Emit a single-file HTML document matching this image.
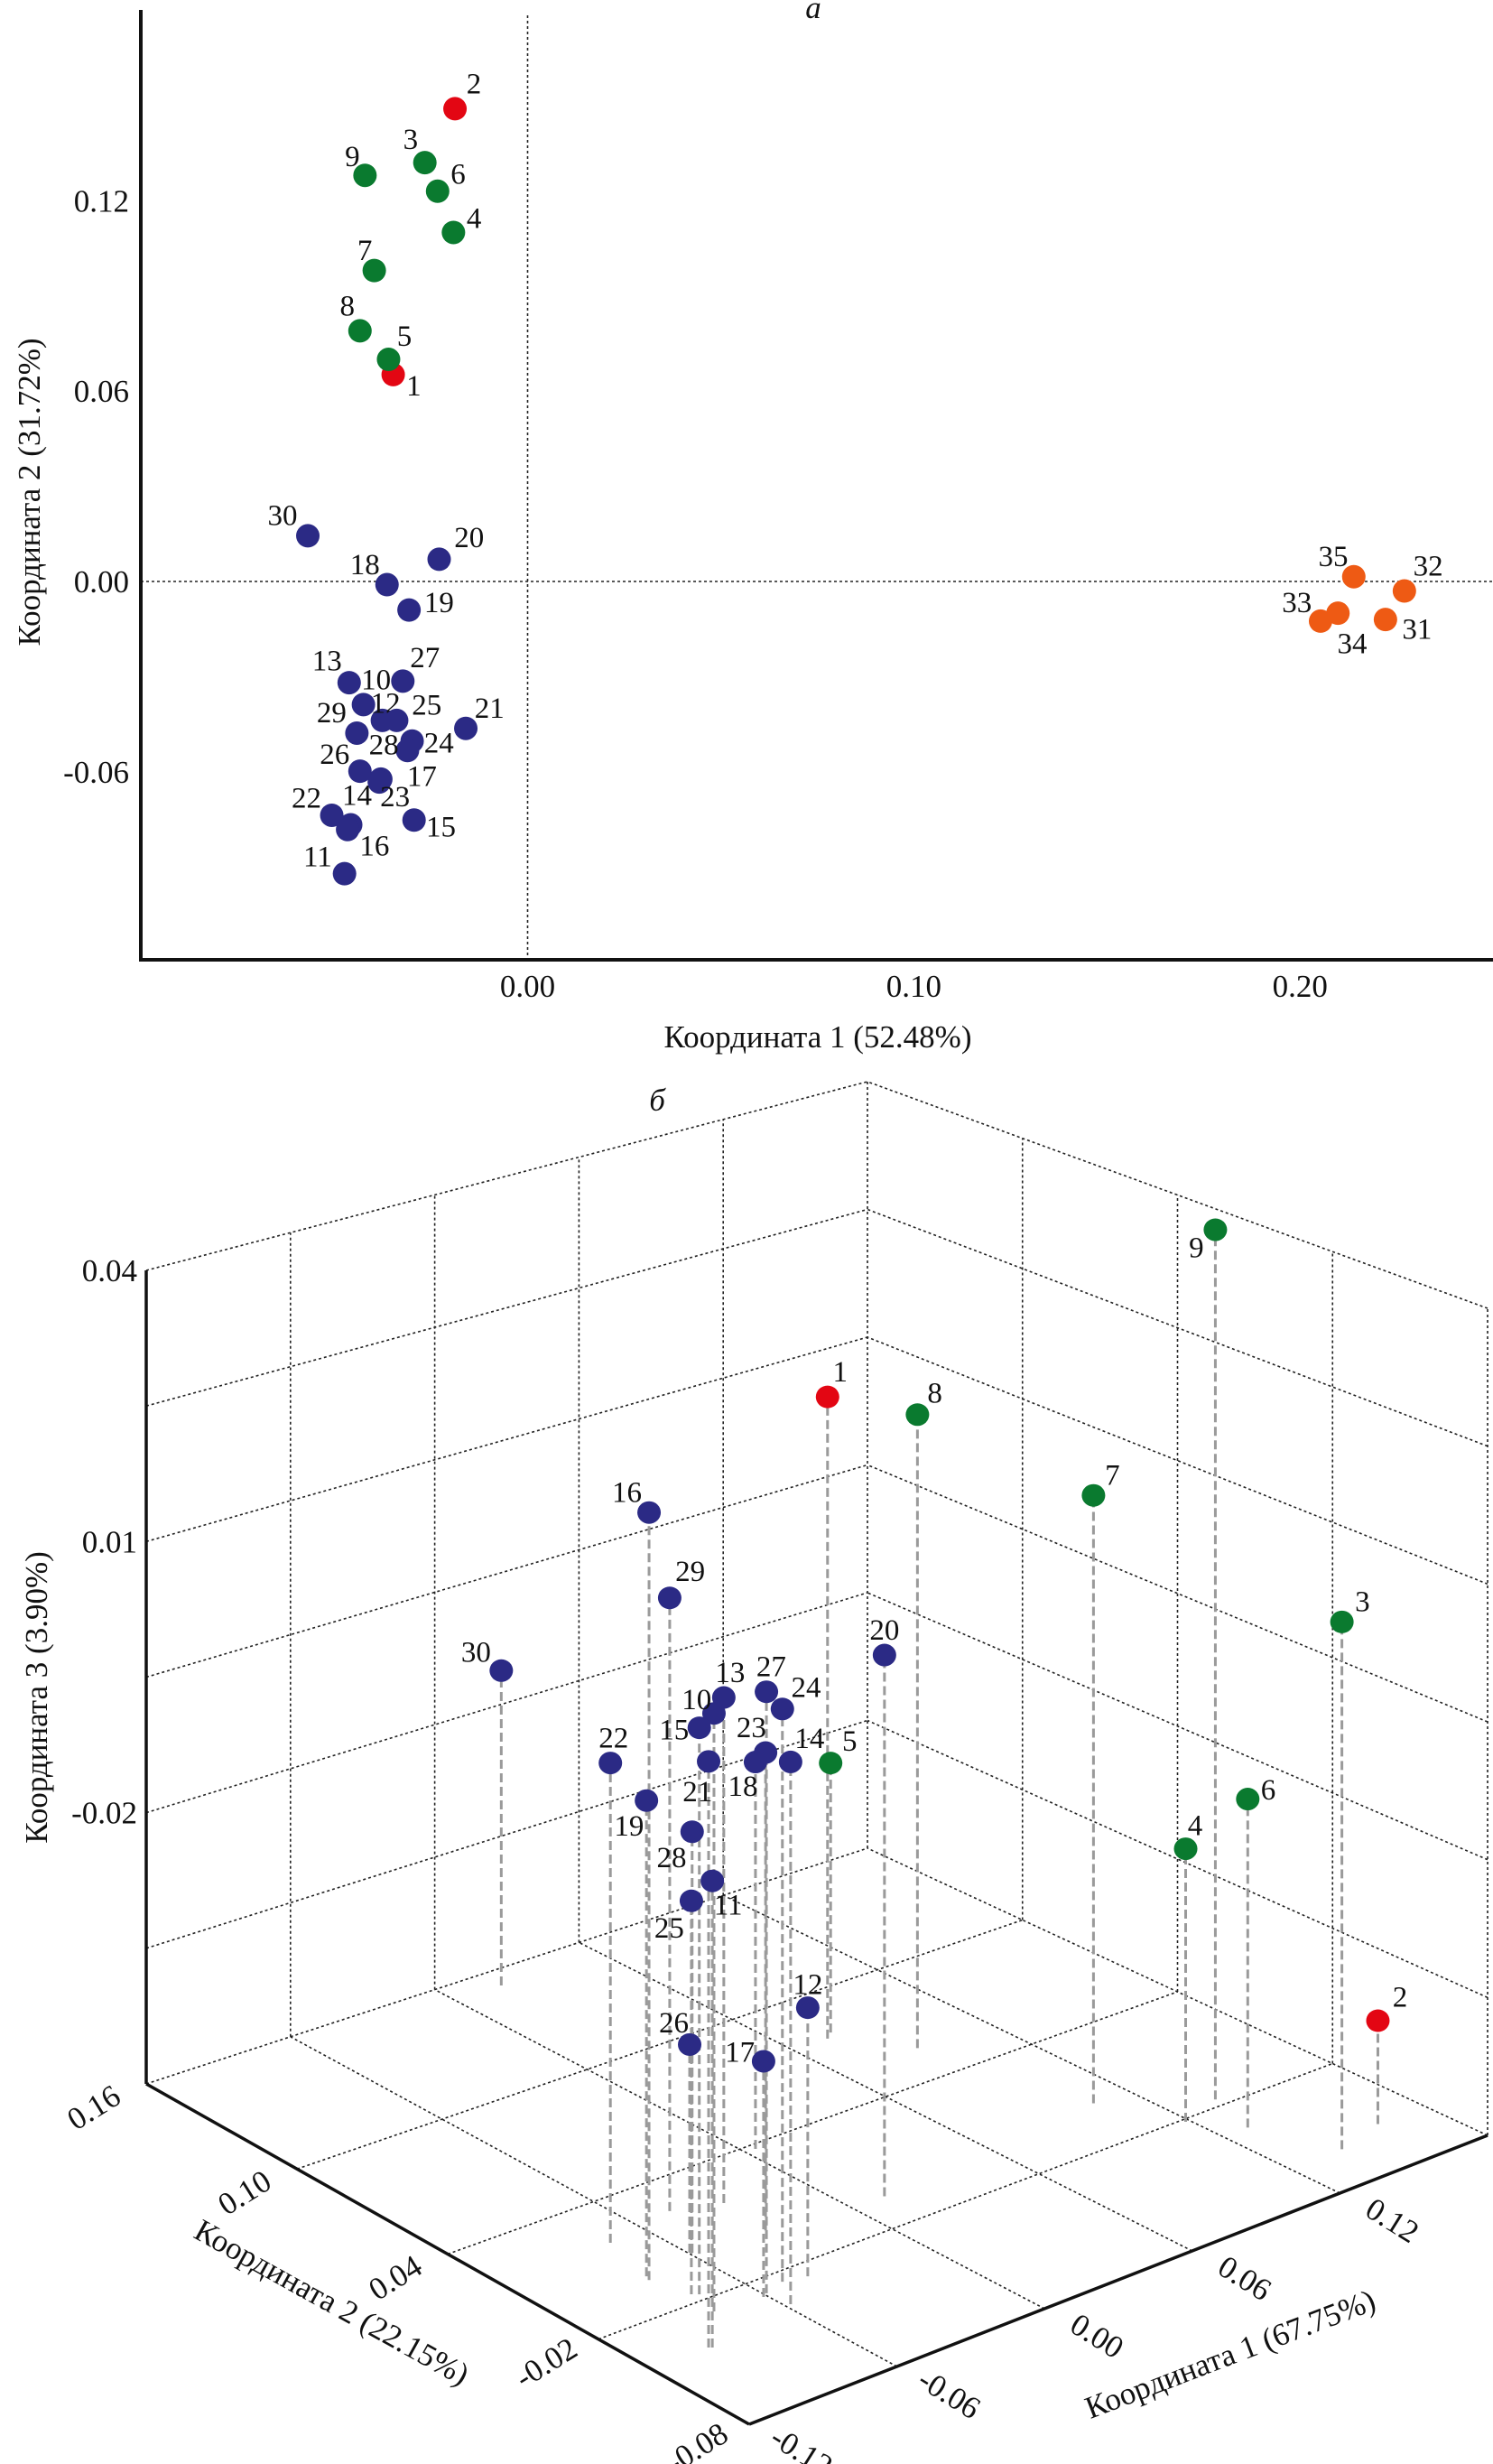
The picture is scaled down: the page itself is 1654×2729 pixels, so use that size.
<!DOCTYPE html>
<html><head><meta charset="utf-8"><style>
html,body{margin:0;padding:0;background:#fff}
svg{display:block}
text{font-family:"Liberation Serif","Noto Serif CJK SC",serif;fill:#111}
</style></head><body>
<svg id="chart" width="1654" height="2729" viewBox="0 0 1654 2729" xmlns="http://www.w3.org/2000/svg">
<g id="top"></g>
<g id="bot"></g>
</svg>
<script>
// ===== 2D chart data =====
const ids2d = [1,2,3,4,5,6,7,8,9,10,11,12,13,14,15,16,17,18,19,20,21,22,23,24,25,26,27,28,29,30,31,32,33,34,35];
const coord1 = [-0.0348,-0.0188,-0.0266,-0.0192,-0.0360,-0.0233,-0.0397,-0.0434,-0.0421,-0.0425,-0.0474,-0.0376,-0.0462,-0.0458,-0.0294,-0.0466,-0.0380,-0.0364,-0.0307,-0.0229,-0.0160,-0.0507,-0.0384,-0.0299,-0.0339,-0.0434,-0.0323,-0.0311,-0.0442,-0.0569,0.2221,0.2270,0.2053,0.2098,0.2139];
const coord2 = [0.0652,0.1490,0.1320,0.1100,0.0700,0.1230,0.0980,0.0790,0.1280,-0.0388,-0.0921,-0.0438,-0.0319,-0.0767,-0.0752,-0.0782,-0.0623,-0.0010,-0.0090,0.0070,-0.0463,-0.0737,-0.0632,-0.0503,-0.0438,-0.0598,-0.0314,-0.0533,-0.0478,0.0144,-0.0120,-0.0030,-0.0125,-0.0100,0.0015];
const group2d = ['r','r','g','g','g','g','g','g','g','b','b','b','b','b','b','b','b','b','b','b','b','b','b','b','b','b','b','b','b','b','o','o','o','o','o'];
const xTicks = [0.00,0.10,0.20];
const xTickLabels = ['0.00','0.10','0.20'];
const yTicks = [0.12,0.06,0.00,-0.06];
const yTickLabels = ['0.12','0.06','0.00','-0.06'];
// label offsets (layout only)
const lab2dOff = [[13,7],[12,-16],[-9,-15],[13,-9],[10,-15],[13,-11],[-6,-13],[-8,-16],[-8,-12],[8,-16],[-17,-11],[2,-11],[-14,-14],[4,-19],[17,4],[17,10],[26,-2],[-14,-13],[19,-5],[19,-14],[15,-13],[-16,-11],[10,9],[17,1],[19,-10],[-16,-11],[14,-15],[-15,-4],[-16,-13],[-16,-13],[20,6],[15,-16],[-15,-12],[9,19],[-13,-13]];

// ===== 3D chart data =====
const ids3d = [1,2,3,4,5,6,7,8,9,10,11,12,13,14,15,16,17,18,19,20,21,22,23,24,25,26,27,28,29,30];
const pc1 = [0.074,0.161,0.141,0.1185,0.0777,0.130,0.106,0.091,0.136,-0.0797,-0.0959,-0.0415,-0.0287,-0.058,-0.0757,-0.0816,-0.0613,0.004,-0.0806,0.0131,-0.0968,-0.0745,-0.031,-0.050,-0.0776,-0.0595,-0.059,-0.0589,-0.0456,0.019];
const pc2 = [0.076,-0.0556,-0.0607,-0.0214,0.0783,-0.0346,0.0026,0.057,-0.0163,-0.0267,-0.0418,-0.0268,0.0187,-0.036,-0.017,-0.0028,-0.0285,0.0376,-0.0008,-0.0044,-0.0412,0.0194,0.0,-0.025,-0.0157,0.0025,-0.0274,0.0021,0.0238,0.1518];
const pc3 = [0.0218,-0.0387,0.0073,-0.0201,-0.0198,-0.0141,0.0169,0.0207,0.0457,0.013,-0.0012,-0.0215,0.0045,0.0072,0.0099,0.0314,-0.0251,-0.0078,0.0005,0.0084,0.0113,0.0013,0.0012,0.0107,-0.0084,-0.0278,0.0136,-0.0051,0.016,-0.0143];
const group3d = ['r','r','g','g','g','g','g','g','g','b','b','b','b','b','b','b','b','b','b','b','b','b','b','b','b','b','b','b','b','b'];
const ax1Ticks = [-0.12,-0.06,0.00,0.06,0.12];
const ax1Labels = ['-0.12','-0.06','0.00','0.06','0.12'];
const ax2Ticks = [-0.08,-0.02,0.04,0.10,0.16];
const ax2Labels = ['-0.08','-0.02','0.04','0.10','0.16'];
const ax3Ticks = [0.04,0.01,-0.02];
const ax3Labels = ['0.04','0.01','-0.02'];
const lab3dOff = [[8,-16],[14,-15],[13,-13],[6,-15],[12,-14],[13,-6],[12,-13],[11,-14],[-12,11],[-11,-9],[10,15],[0,-15],[4,-16],[12,-15],[-16,1],[-14,-13],[-15,-6],[-8,15],[-11,16],[0,-16],[-7,19],[2,-16],[-9,-16],[15,-14],[-14,17],[-10,-14],[3,-16],[-13,16],[13,-17],[-16,-12]];

const COLORS = {r:'#e30613', g:'#0a7a2f', b:'#2b2a85', o:'#ee5a14'};
const NS = 'http://www.w3.org/2000/svg';
const S = 1.75;
function mk(parent, tag, attrs, txt){
  const e = document.createElementNS(NS, tag);
  for (const k in attrs) e.setAttribute(k, attrs[k]);
  if (txt !== undefined) e.textContent = txt;
  parent.appendChild(e);
  return e;
}

// ===== 2D chart =====
(function(){
  const g = document.getElementById('top');
  const X0 = 584.5, XK = 4279, Y0 = 644, YK = 3514;
  const xs = v => X0 + v*XK, ys = v => Y0 - v*YK;
  const L = 156, B = 1063, R = 1645, T = 11;
  let e;
  e = mk(g,'line',{x1:xs(0),y1:17,x2:xs(0),y2:B,stroke:'#222','stroke-width':1.6,'stroke-dasharray':'3,3'});
   
  e = mk(g,'line',{x1:L,y1:ys(0),x2:1654,y2:ys(0),stroke:'#222','stroke-width':1.6,'stroke-dasharray':'3,3'});
   
  e = mk(g,'line',{x1:L,y1:T,x2:L,y2:B+2,stroke:'#111','stroke-width':4});
   
  e = mk(g,'line',{x1:L-2,y1:B,x2:R+9,y2:B,stroke:'#111','stroke-width':4});
   
  xTicks.forEach((t,i)=>{
    const el = mk(g,'text',{x:xs(t),y:1104,'font-size':35,'text-anchor':'middle'},xTickLabels[i]);
     
  });
  yTicks.forEach((t,i)=>{
    const el = mk(g,'text',{x:143,y:ys(t)+12,'font-size':35,'text-anchor':'end'},yTickLabels[i]);
     
  });
  e = mk(g,'text',{x:906,y:1160,'font-size':35,'text-anchor':'middle'},'Координата 1 (52.48%)');
   
  e = mk(g,'text',{x:0,y:0,'font-size':35,'text-anchor':'middle',transform:'translate(44,545) rotate(-90)'},'Координата 2 (31.72%)');
   
  e = mk(g,'text',{x:901,y:20,'font-size':35,'font-style':'italic','text-anchor':'middle'},'а');
   
  ids2d.forEach((id,i)=>{
    const cx = xs(coord1[i]), cy = ys(coord2[i]);
    const c = mk(g,'ellipse',{cx:cx,cy:cy,rx:13,ry:13,fill:COLORS[group2d[i]]});
     
    const t = mk(g,'text',{x:cx+lab2dOff[i][0]*S,y:cy+lab2dOff[i][1]*S+11,'font-size':33,'text-anchor':'middle'},String(id));
     
  });
})();

// ===== 3D chart =====
(function(){
  const g = document.getElementById('bot');
  const F=[830,2685], Rr=[1648,2365], Lc=[162,2308], Bk=[961,2047];
  const hF=968, hR=916, hL=901, hB=849;
  const u1 = v => (v+0.12)/0.30, u2 = v => (v+0.08)/0.24, u3 = v => (v+0.05)/0.09;
  function floor(u,v){
    return [F[0]*(1-u)*(1-v)+Rr[0]*u*(1-v)+Lc[0]*(1-u)*v+Bk[0]*u*v,
            F[1]*(1-u)*(1-v)+Rr[1]*u*(1-v)+Lc[1]*(1-u)*v+Bk[1]*u*v];
  }
  function hgt(u,v){ return hF*(1-u)*(1-v)+hR*u*(1-v)+hL*(1-u)*v+hB*u*v; }
  function P(u,v,w){ const f=floor(u,v); return [f[0], f[1]-w*hgt(u,v)]; }
  function line(a,b,name,style){
    const e = mk(g,'line',Object.assign({x1:a[0],y1:a[1],x2:b[0],y2:b[1]},style));
     
    return e;
  }
  const dot = {stroke:'#222','stroke-width':1.6,'stroke-dasharray':'3,3'};
  const solid = {stroke:'#111','stroke-width':3.5};
  for (let k=1;k<=5;k++){ const u=k/5; line(P(u,0,0),P(u,1,0),'floor-grid-line',dot); }
  for (let k=1;k<=4;k++){ const v=k/4; line(P(0,v,0),P(1,v,0),'floor-grid-line',dot); }
  for (let k=1;k<=5;k++){ const u=k/5; line(P(u,1,0),P(u,1,1),'wall-grid-line',dot); }
  for (let k=1;k<=6;k++){ const w=k/6; line(P(0,1,w),P(1,1,w),'wall-grid-line',dot); }
  for (let k=0;k<=3;k++){ const v=k/4; line(P(1,v,0),P(1,v,1),'wall-grid-line',dot); }
  for (let k=1;k<=6;k++){ const w=k/6; line(P(1,0,w),P(1,1,w),'wall-grid-line',dot); }
  line(P(0,0,0),P(1,0,0),'axis-1-edge',solid);
  line(P(0,0,0),P(0,1,0),'axis-2-edge',solid);
  line(P(0,1,0),P(0,1,1),'axis-3-edge',solid);
  ids3d.forEach((id,i)=>{
    const u=u1(pc1[i]), v=u2(pc2[i]), w=u3(pc3[i]);
    line(P(u,v,0),P(u,v,w),'drop-line-'+id,{stroke:'#9a9a9a','stroke-width':3,'stroke-dasharray':'10,5'});
  });
  ids3d.forEach((id,i)=>{
    const p = P(u1(pc1[i]),u2(pc2[i]),u3(pc3[i]));
    const c = mk(g,'ellipse',{cx:p[0],cy:p[1],rx:13,ry:12.5,fill:COLORS[group3d[i]]});
     
    const t = mk(g,'text',{x:p[0]+lab3dOff[i][0]*S,y:p[1]+lab3dOff[i][1]*S+11,'font-size':33,'text-anchor':'middle'},String(id));
     
  });
  ax3Ticks.forEach((t,i)=>{
    const p = P(0,1,u3(t));
    const e = mk(g,'text',{x:p[0]-10,y:p[1]+12,'font-size':35,'text-anchor':'end'},ax3Labels[i]);
     
  });
  ax1Ticks.forEach((t,i)=>{
    const p = P(u1(t),0,0);
    const e = mk(g,'text',{x:0,y:0,'font-size':35,'text-anchor':'middle',transform:`translate(${p[0]+52},${p[1]+40}) rotate(32)`},ax1Labels[i]);
     
  });
  ax2Ticks.forEach((t,i)=>{
    const p = P(0,u2(t),0);
    const e = mk(g,'text',{x:0,y:0,'font-size':35,'text-anchor':'middle',transform:`translate(${p[0]-52},${p[1]+36}) rotate(-32)`},ax2Labels[i]);
     
  });
  let e;
  e = mk(g,'text',{x:0,y:0,'font-size':35,'text-anchor':'middle',transform:'translate(1367,2618) rotate(-21)'},'Координата 1 (67.75%)');
   
  e = mk(g,'text',{x:0,y:0,'font-size':35,'text-anchor':'middle',transform:'translate(362,2560) rotate(29)'},'Координата 2 (22.15%)');
   
  e = mk(g,'text',{x:0,y:0,'font-size':35,'text-anchor':'middle',transform:'translate(52,1880) rotate(-90)'},'Координата 3 (3.90%)');
   
  e = mk(g,'text',{x:728,y:1230,'font-size':35,'font-style':'italic','text-anchor':'middle'},'б');
   
})();
</script>
</body></html>
